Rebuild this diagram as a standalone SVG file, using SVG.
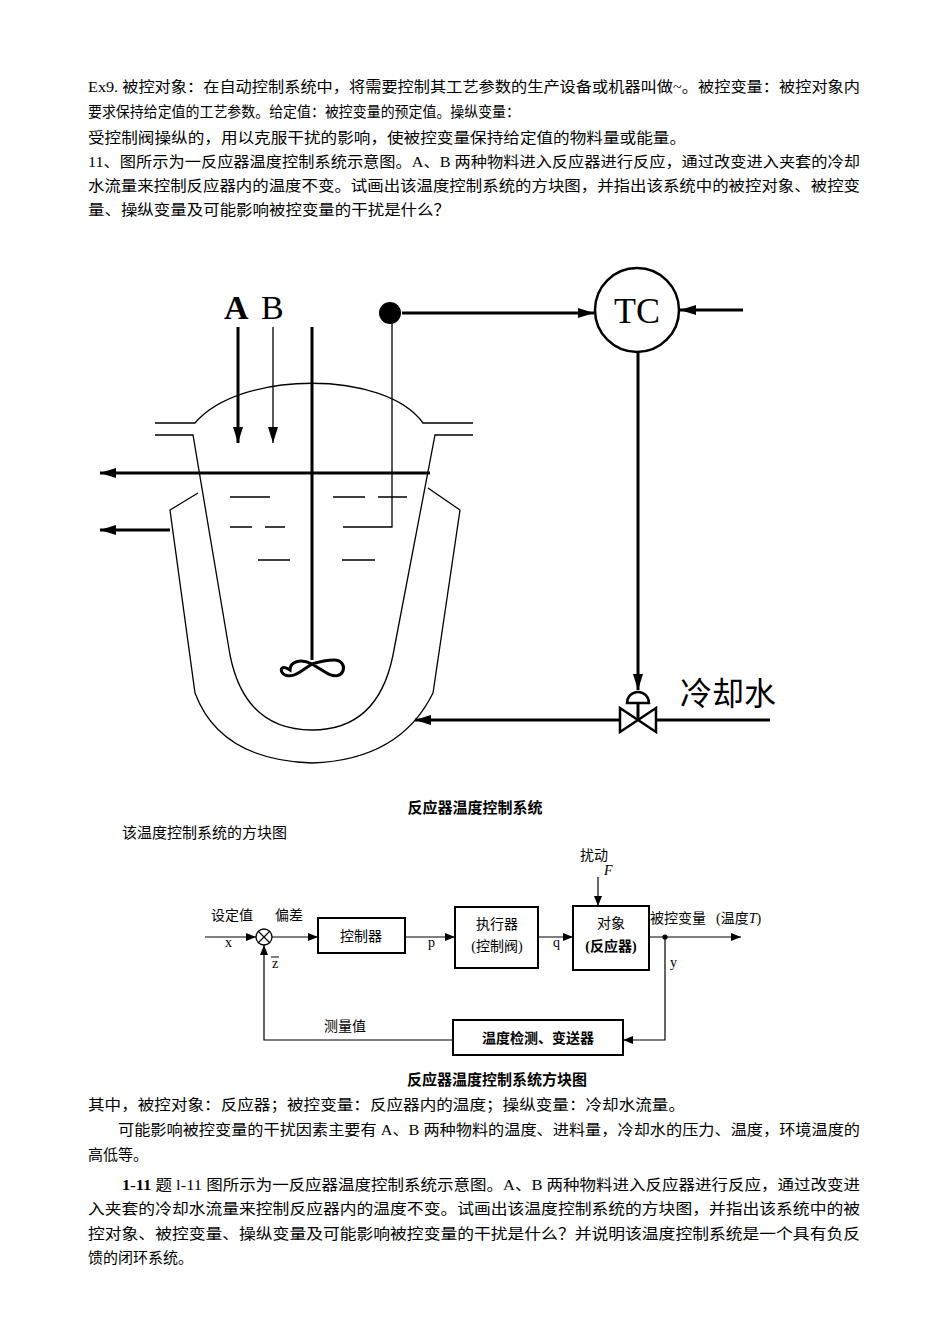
<svg xmlns="http://www.w3.org/2000/svg" width="950" height="1344" viewBox="0 0 950 1344">
<style>
.t{font-family:"Liberation Serif","Noto Sans CJK SC",serif;font-size:15px;fill:#000}
.b{font-weight:bold}
.s{font-family:"Liberation Serif","Noto Sans CJK SC",serif;font-size:14px;fill:#000}
.ln{stroke:#000;fill:none;stroke-width:3}
.th{stroke:#000;fill:none;stroke-width:1.3}
</style>
<defs>
<marker id="a" markerWidth="10" markerHeight="8" refX="10" refY="4" orient="auto" markerUnits="userSpaceOnUse"><path d="M0,0L10,4L0,8z" fill="#000"/></marker>
<marker id="A" markerWidth="16" markerHeight="10" refX="16" refY="5" orient="auto" markerUnits="userSpaceOnUse"><path d="M0,0L16,5L0,10z" fill="#000"/></marker>
</defs>
<rect width="950" height="1344" fill="#fff"/>
<g id="text-top">
<text class="t" x="88" y="92" textLength="772" lengthAdjust="spacingAndGlyphs">Ex9. 被控对象：在自动控制系统中，将需要控制其工艺参数的生产设备或机器叫做~。被控变量：被控对象内</text>
<text class="t" x="88" y="117" textLength="432" lengthAdjust="spacingAndGlyphs">要求保持给定值的工艺参数。给定值：被控变量的预定值。操纵变量：</text>
<text class="t" x="88" y="143" textLength="598" lengthAdjust="spacingAndGlyphs">受控制阀操纵的，用以克服干扰的影响，使被控变量保持给定值的物料量或能量。</text>
<text class="t" x="88" y="167" textLength="772" lengthAdjust="spacingAndGlyphs">11、图所示为一反应器温度控制系统示意图。A、B 两种物料进入反应器进行反应，通过改变进入夹套的冷却</text>
<text class="t" x="88" y="191" textLength="772" lengthAdjust="spacingAndGlyphs">水流量来控制反应器内的温度不变。试画出该温度控制系统的方块图，并指出该系统中的被控对象、被控变</text>
<text class="t" x="88" y="215" textLength="362" lengthAdjust="spacingAndGlyphs">量、操纵变量及可能影响被控变量的干扰是什么？</text>
</g>
<g id="reactor">
<text x="224" y="319" font-family="Liberation Serif,serif" font-size="34" font-weight="bold">A</text>
<text x="261" y="319" font-family="Liberation Serif,serif" font-size="34">B</text>
<line class="ln" x1="238" y1="327" x2="238" y2="443" marker-end="url(#A)"/>
<line class="th" x1="273" y1="327" x2="273" y2="443" marker-end="url(#A)"/>
<line class="ln" x1="312" y1="327" x2="312" y2="660"/>
<path class="ln" d="M290,670 C275,660 280,685 300,672 L312,664 L325,672 C345,685 350,660 334,660 C325,660 312,664 312,664 C300,658 290,662 290,670 Z" stroke-width="2.5"/>
<path class="th" stroke-width="2" d="M155,423H195C240,370 385,370 423,423H473"/>
<path class="th" stroke-width="2" d="M155,435H193L230,655Q245,730 312,730Q378,730 393,655L435,435H473"/>
<path class="th" stroke-width="2" d="M198,493L170,510L195,693Q220,760 312,763Q400,760 433,693L460,510L428,488"/>
<line class="ln" x1="430" y1="473" x2="100" y2="473" marker-end="url(#A)"/>
<line class="ln" x1="170" y1="530" x2="100" y2="530" marker-end="url(#A)"/>
<circle cx="390" cy="313" r="11" fill="#000"/>
<path class="th" stroke-width="2" d="M392,313V527H343"/>
<g class="th" stroke-width="2">
<path d="M230,497H270M333,497H365M378,497H407M230,527H252M265,527H285M258,560H290M342,560H375"/>
</g>
</g>
<g id="tc">
<circle cx="637" cy="310" r="42" fill="none" stroke="#000" stroke-width="2.5"/>
<text x="637" y="323" text-anchor="middle" font-family="Liberation Serif,serif" font-size="36">TC</text>
</g>
<g id="valve">
<path d="M627,703a11,11 0 0 1 22,0z" fill="none" stroke="#000" stroke-width="2.5"/>
<line class="ln" x1="638" y1="703" x2="638" y2="720"/>
<path d="M620,708L656,732V708L620,732z" fill="none" stroke="#000" stroke-width="2.5"/>
<text x="680" y="705" font-family="Noto Sans CJK SC,sans-serif" font-size="32">冷却水</text>
</g>
<g id="connectors">
<line class="ln" x1="402" y1="313" x2="594" y2="313" stroke-width="2.5" marker-end="url(#A)"/>
<line class="ln" x1="743" y1="310" x2="680" y2="310" stroke-width="2.5" marker-end="url(#A)"/>
<line class="ln" x1="638" y1="352" x2="638" y2="690" stroke-width="2.5" marker-end="url(#A)"/>
<line class="ln" x1="770" y1="720" x2="656" y2="720"/>
<line class="ln" x1="620" y1="720" x2="415" y2="720" stroke-width="2.5" marker-end="url(#A)"/>
</g>
<text class="t b" x="475" y="813" text-anchor="middle">反应器温度控制系统</text>
<text class="t" x="122" y="838">该温度控制系统的方块图</text>
<g id="block-diagram">
<g id="sum"><circle cx="264" cy="937" r="8" fill="none" stroke="#000" stroke-width="1.3"/><path d="M258,931L270,943M270,931L258,943" stroke="#000" stroke-width="1.2"/></g>
<g id="controller"><rect x="318" y="918" width="87" height="35" fill="none" stroke="#000" stroke-width="2"/><text class="s" x="361" y="941" text-anchor="middle">控制器</text></g>
<g id="actuator"><rect x="455" y="907" width="83" height="61" fill="none" stroke="#000" stroke-width="2"/><text class="s" x="497" y="929" text-anchor="middle">执行器</text><text class="s" x="497" y="951" text-anchor="middle">(控制阀)</text></g>
<g id="plant"><rect x="573" y="906" width="76" height="64" fill="none" stroke="#000" stroke-width="2"/><text class="s" x="611" y="928" text-anchor="middle">对象</text><text class="s b" x="611" y="951" text-anchor="middle">(反应器)</text></g>
<g id="sensor"><rect x="453" y="1020" width="170" height="35" fill="none" stroke="#000" stroke-width="2"/><text class="s b" x="538" y="1043" text-anchor="middle">温度检测、变送器</text></g>
<g id="bd-connectors" stroke="#000" stroke-width="1.2" fill="none">
<line x1="205" y1="937" x2="256" y2="937" marker-end="url(#a)"/>
<line x1="272" y1="937" x2="318" y2="937" marker-end="url(#a)"/>
<line x1="405" y1="937" x2="455" y2="937" marker-end="url(#a)"/>
<line x1="538" y1="937" x2="573" y2="937" marker-end="url(#a)"/>
<line x1="649" y1="937" x2="741" y2="937" marker-end="url(#a)"/>
<line x1="598" y1="877" x2="598" y2="906" marker-end="url(#a)"/>
<path d="M665,937V1040H623" marker-end="url(#a)"/>
<path d="M453,1040H264V945" marker-end="url(#a)"/>
<circle cx="665" cy="937" r="2" fill="#000"/>
</g>
<text class="s" x="211" y="920">设定值</text>
<text class="s" x="275" y="920">偏差</text>
<text class="s" x="225" y="947">x</text>
<text class="s" x="272" y="968">z</text><line x1="271" y1="957" x2="279" y2="957" stroke="#000"/>
<text class="s" x="428" y="947">p</text>
<text class="s" x="553" y="947">q</text>
<text class="s" x="580" y="860">扰动</text>
<text class="s" x="604" y="875" font-style="italic">F</text>
<text class="s" x="650" y="923">被控变量</text>
<text class="s" x="716" y="923">(温度<tspan font-style="italic">T</tspan>)</text>
<text class="s" x="670" y="967">y</text>
<text class="s" x="324" y="1031">测量值</text>
</g>
<g id="text-bottom">
<text class="t b" x="497" y="1085" text-anchor="middle">反应器温度控制系统方块图</text>
<text class="t" x="88" y="1110" textLength="597" lengthAdjust="spacingAndGlyphs">其中，被控对象：反应器；被控变量：反应器内的温度；操纵变量：冷却水流量。</text>
<text class="t" x="118" y="1135" textLength="742" lengthAdjust="spacingAndGlyphs">可能影响被控变量的干扰因素主要有 A、B 两种物料的温度、进料量，冷却水的压力、温度，环境温度的</text>
<text class="t" x="88" y="1160">高低等。</text>
<text class="t" x="122" y="1190" textLength="738" lengthAdjust="spacingAndGlyphs"><tspan font-weight="bold">1-11</tspan> 题 l-11 图所示为一反应器温度控制系统示意图。A、B 两种物料进入反应器进行反应，通过改变进</text>
<text class="t" x="88" y="1214" textLength="772" lengthAdjust="spacingAndGlyphs">入夹套的冷却水流量来控制反应器内的温度不变。试画出该温度控制系统的方块图，并指出该系统中的被</text>
<text class="t" x="88" y="1239" textLength="772" lengthAdjust="spacingAndGlyphs">控对象、被控变量、操纵变量及可能影响被控变量的干扰是什么？并说明该温度控制系统是一个具有负反</text>
<text class="t" x="88" y="1263">馈的闭环系统。</text>
</g>
</svg>
